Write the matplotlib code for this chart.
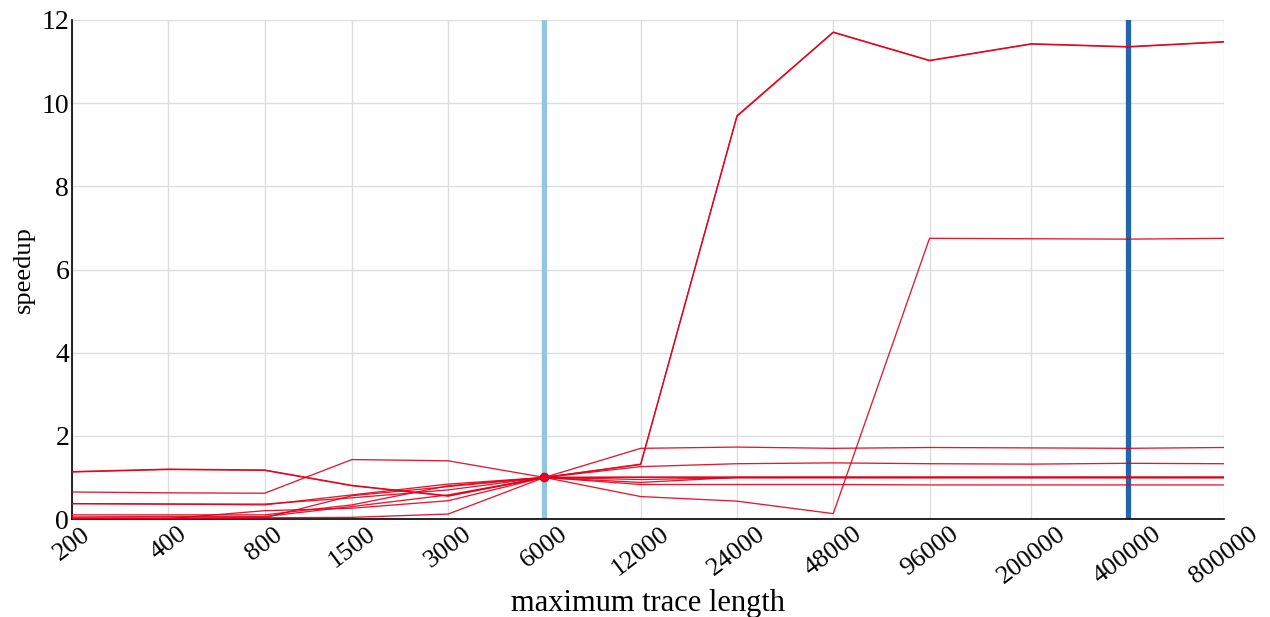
import matplotlib
matplotlib.use("Agg")
import matplotlib.pyplot as plt
import numpy as np

# trace lengths (x) and speedup per benchmark, normalised at 6000
trace_lengths = [200, 400, 800, 1500, 3000, 6000, 12000, 24000, 48000,
                 96000, 200000, 400000, 800000]

speedups = [
    [1.13, 1.19, 1.17, 0.80, 0.55, 1.0, 1.31, 9.68, 11.70, 11.02, 11.42, 11.35, 11.47],
    [1.14, 1.20, 1.18, 0.81, 0.56, 1.0, 1.32, 9.70, 11.71, 11.03, 11.43, 11.36, 11.48],
    [0.02, 0.02, 0.03, 0.04, 0.12, 1.0, 0.54, 0.43, 0.13, 6.75, 6.74, 6.73, 6.75],
    [0.65, 0.63, 0.62, 1.43, 1.40, 1.0, 1.70, 1.73, 1.70, 1.72, 1.71, 1.70, 1.72],
    [0.37, 0.36, 0.34, 0.58, 0.84, 1.0, 1.26, 1.33, 1.35, 1.33, 1.32, 1.34, 1.33],
    [0.37, 0.36, 0.36, 0.51, 0.70, 1.0, 0.95, 0.99, 0.99, 0.99, 0.99, 0.99, 0.99],
    [0.10, 0.10, 0.10, 0.34, 0.80, 1.0, 0.88, 1.00, 1.00, 1.00, 1.00, 1.00, 1.00],
    [0.05, 0.06, 0.06, 0.30, 0.58, 1.0, 0.83, 0.83, 0.83, 0.82, 0.82, 0.82, 0.82],
    [0.01, 0.01, 0.20, 0.26, 0.44, 1.0, 1.00, 1.00, 1.00, 1.00, 1.00, 1.00, 1.00],
    [0.02, 0.02, 0.03, 0.56, 0.78, 1.0, 1.01, 1.01, 1.01, 1.01, 1.01, 1.01, 1.01],
]

baseline_length = 6000
chosen_length = 400000
y_ticks = [0, 2, 4, 6, 8, 10, 12]

plt.rcParams['font.family'] = ['Liberation Serif', 'DejaVu Serif']

fig = plt.figure(figsize=(12.7, 6.17), dpi=100)
ax = fig.add_axes([0.0567, 0.1588, 0.9071, 0.8088])

ax.set_xscale('log')
ax.set_xlim(trace_lengths[0], trace_lengths[-1])
ax.set_ylim(0, 12)

# grid
ax.grid(True, color='#dddddd', linewidth=1.0)
ax.set_axisbelow(True)

ax.axvline(baseline_length, color='#92c5de', linewidth=3.8, zorder=2)
ax.axvline(chosen_length, color='#2166ac', linewidth=3.8, zorder=2)

for s in speedups:
    ax.plot(trace_lengths, s, color='#e0001b', linewidth=0.95, alpha=0.9, zorder=3)

ax.plot([baseline_length], [1.0], 'o', color='#e0001b', markersize=6, zorder=4)

ax.set_xticks(trace_lengths)
ax.set_xticklabels([str(t) for t in trace_lengths], rotation=37, fontsize=19)
ax.xaxis.set_minor_locator(matplotlib.ticker.NullLocator())
ax.set_yticks(y_ticks)
ax.set_yticklabels([str(t) for t in y_ticks], fontsize=20)
ax.tick_params(axis='both', length=0)
ax.tick_params(axis='x', pad=3)
ax.tick_params(axis='y', pad=2)

for side in ['top', 'right']:
    ax.spines[side].set_visible(False)
for side in ['left', 'bottom']:
    ax.spines[side].set_color('black')
    ax.spines[side].set_linewidth(1.2)

ax.set_xlabel('maximum trace length', fontsize=22)
ax.xaxis.set_label_coords(0.5, -0.14)
ax.set_ylabel('speedup', fontsize=19)
ax.yaxis.set_label_coords(-0.032, 0.5)

fig.savefig('out.png', dpi=100)
